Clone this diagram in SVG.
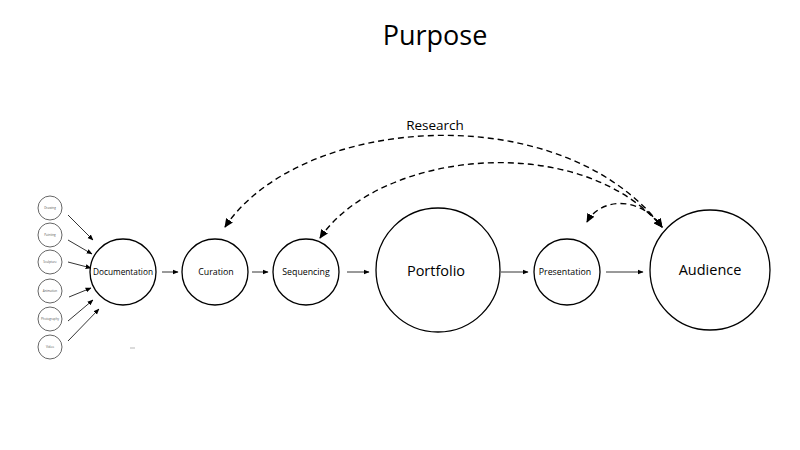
<svg xmlns="http://www.w3.org/2000/svg" width="800" height="450" viewBox="0 0 800 450">
<style>
  .node circle { fill: #fff; stroke: #000; stroke-width: 1.3; }
  .src circle { fill: #fff; stroke: #555; stroke-width: 0.9; }
  text { font-family: "Open Sans", "Liberation Sans", sans-serif; fill: #000; text-anchor: middle; dominant-baseline: central; }
  .tiny { font-size: 3px; fill: #555; }
  .lbl { font-size: 8.8px; }
  .big { font-size: 14.5px; }
  .flow line { stroke: #000; stroke-width: 0.8; marker-end: url(#ah); }
  .dash path { fill: none; stroke: #000; stroke-width: 1.4; stroke-dasharray: 6 4; marker-start: url(#dh); marker-end: url(#dh); }
</style>
<defs>
  <marker id="ah" viewBox="0 0 10 10" refX="9" refY="5" markerWidth="6" markerHeight="6" markerUnits="userSpaceOnUse" orient="auto">
    <path d="M0,1 L10,5 L0,9 Z" fill="#000"/>
  </marker>
  <marker id="dh" viewBox="0 0 10 10" refX="9" refY="5" markerWidth="9" markerHeight="9" markerUnits="userSpaceOnUse" orient="auto-start-reverse">
    <path d="M0,0.5 L10,5 L0,9.5 Z" fill="#000"/>
  </marker>
</defs>
<rect width="800" height="450" fill="#fff"/>
<text x="435" y="34" style="font-size:27px">Purpose</text>
<text x="435" y="125" style="font-size:13.5px">Research</text>

<g id="src-drawing" class="src"><circle cx="50" cy="208" r="12"/><text class="tiny" x="50" y="208">Drawing</text></g>
<g id="src-painting" class="src"><circle cx="50" cy="235" r="12"/><text class="tiny" x="50" y="235">Painting</text></g>
<g id="src-sculpture" class="src"><circle cx="50" cy="262" r="12"/><text class="tiny" x="50" y="262">Sculpture</text></g>
<g id="src-animation" class="src"><circle cx="50" cy="291" r="12"/><text class="tiny" x="50" y="291">Animation</text></g>
<g id="src-photography" class="src"><circle cx="50" cy="319" r="12"/><text class="tiny" x="50" y="319">Photography</text></g>
<g id="src-video" class="src"><circle cx="50" cy="347" r="12"/><text class="tiny" x="50" y="347">Video</text></g>

<g id="documentation" class="node"><circle cx="123" cy="272" r="33"/><text class="lbl" x="123" y="272" textLength="60" lengthAdjust="spacingAndGlyphs">Documentation</text></g>
<g id="curation" class="node"><circle cx="215" cy="272" r="33"/><text class="lbl" x="216" y="272">Curation</text></g>
<g id="sequencing" class="node"><circle cx="306" cy="272" r="33"/><text class="lbl" x="306" y="272">Sequencing</text></g>
<g id="portfolio" class="node"><circle cx="438" cy="270" r="62"/><text class="big" x="436" y="270">Portfolio</text></g>
<g id="presentation" class="node"><circle cx="567" cy="272" r="33"/><text class="lbl" x="565" y="272">Presentation</text></g>
<g id="audience" class="node"><circle cx="710" cy="270" r="60"/><text class="big" x="710" y="269">Audience</text></g>

<g id="connectors">
  <g class="flow">
    <line x1="68" y1="215" x2="93" y2="240"/>
    <line x1="68" y1="240" x2="92" y2="254"/>
    <line x1="68" y1="262" x2="91" y2="268"/>
    <line x1="69" y1="297" x2="91" y2="288"/>
    <line x1="68" y1="321" x2="93" y2="300"/>
    <line x1="68" y1="341" x2="99" y2="309"/>
    <line x1="162" y1="272" x2="178" y2="272"/>
    <line x1="252" y1="272" x2="268" y2="272"/>
    <line x1="347" y1="272" x2="369" y2="272"/>
    <line x1="501" y1="272" x2="528" y2="272"/>
    <line x1="606" y1="272" x2="643" y2="272"/>
  </g>
  <g class="dash">
    <path d="M225,227 C300,115 560,95 662,227"/>
    <path d="M320,238 C380,150 580,130 662,227"/>
    <path d="M587,222 C600,198 640,195 662,227"/>
  </g>
</g>
<line x1="130" y1="348" x2="135" y2="348" stroke="#999" stroke-width="0.7"/>
</svg>
